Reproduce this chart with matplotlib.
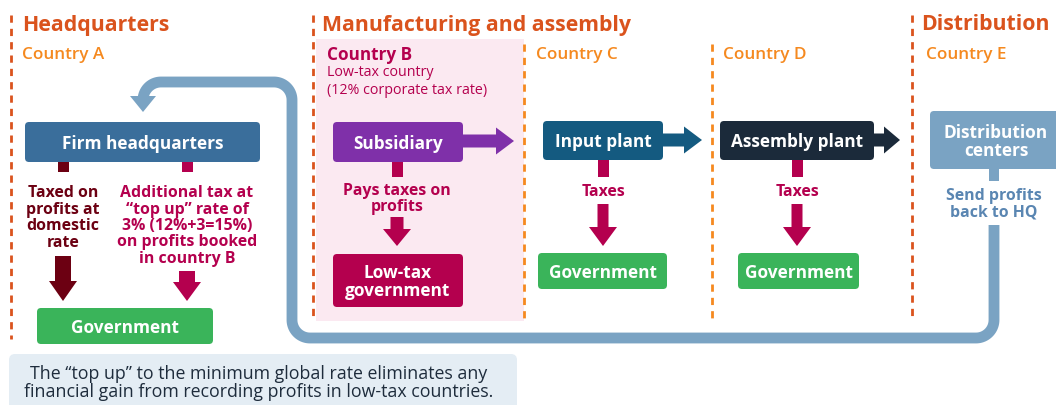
import numpy as np
import matplotlib
matplotlib.use("Agg")
import matplotlib.pyplot as plt
from matplotlib.patches import FancyBboxPatch, Polygon, Rectangle

plt.rcParams['font.family'] = ['Open Sans', 'DejaVu Sans']

# texts of the diagram
section_titles = ['Headquarters', 'Manufacturing and assembly', 'Distribution']
country_labels = ['Country A', 'Country C', 'Country D', 'Country E']
country_b = ['Country B', 'Low-tax country', '(12% corporate tax rate)']
box_labels = ['Firm headquarters', 'Subsidiary', 'Input plant', 'Assembly plant',
              'Distribution\ncenters']
gov_labels = ['Government', 'Low-tax\ngovernment', 'Government', 'Government']
hq_notes = ['Taxed on\nprofits at\ndomestic\nrate',
            'Additional tax at\n\u201ctop up\u201d rate of\n3% (12%+3=15%)\non profits booked\nin country B']
flow_notes = ['Pays taxes on\nprofits', 'Taxes', 'Taxes', 'Send profits\nback to HQ']
footnote = ('The \u201ctop up\u201d to the minimum global rate eliminates any\n'
            'financial gain from recording profits in low-tax countries.')

RED_OR = '#DA531D'
ORANGE = '#F5891F'
CRIMSON = '#B4004E'
DARKRED = '#6C0012'
GREEN = '#3AB45A'
LOOP = '#7AA3C3'
BOX_FS = 12.4
NOTE_FS = 11.4

fig = plt.figure(figsize=(10.56, 4.06), dpi=100)
ax = fig.add_axes([0, 0, 1, 1])
ax.set_xlim(0, 1056)
ax.set_ylim(406, 0)
ax.axis('off')


def rbox(x0, y0, x1, y1, color, text=None, size=BOX_FS, r=4, tcolor='white'):
    ax.add_patch(FancyBboxPatch((x0, y0), x1 - x0, y1 - y0,
                                boxstyle=f'round,pad=0,rounding_size={r}',
                                fc=color, ec='none', zorder=3))
    if text:
        ax.text((x0 + x1) / 2, (y0 + y1) / 2 + 1, text, color=tcolor, fontsize=size,
                fontweight='bold', ha='center', va='center', linespacing=1.0, zorder=4)


def down_arrow(x, y0, y1, color, shaft=13, head=28, hlen=19):
    pts = [(x - shaft / 2, y0), (x + shaft / 2, y0), (x + shaft / 2, y1 - hlen),
           (x + head / 2, y1 - hlen), (x, y1), (x - head / 2, y1 - hlen),
           (x - shaft / 2, y1 - hlen)]
    ax.add_patch(Polygon(pts, closed=True, fc=color, ec='none', zorder=3))


def right_arrow(x0, x1, y, color, shaft=13, head=27, hlen=18):
    pts = [(x0, y - shaft / 2), (x1 - hlen, y - shaft / 2), (x1 - hlen, y - head / 2),
           (x1, y), (x1 - hlen, y + head / 2), (x1 - hlen, y + shaft / 2), (x0, y + shaft / 2)]
    ax.add_patch(Polygon(pts, closed=True, fc=color, ec='none', zorder=3))


def stem(x, y0, y1, color, w=11):
    ax.add_patch(Rectangle((x - w / 2, y0), w, y1 - y0, fc=color, ec='none', zorder=3))


# pink background of country B
ax.add_patch(Rectangle((316, 40), 208, 282, fc='#FBE9F1', ec='none', zorder=0))

# dashed dividers
for x, y0, y1, c in [(11, 16, 340, RED_OR), (313, 16, 322, RED_OR), (912, 16, 322, RED_OR),
                     (524, 45, 322, ORANGE), (712, 45, 322, ORANGE)]:
    ax.plot([x, x], [y0, y1], color=c, lw=2, dashes=(2.6, 2.2), solid_capstyle='butt', zorder=1)

# section titles
for x, t in zip([22, 322, 921], section_titles):
    ax.text(x, 25, t, color=RED_OR, fontsize=15.3, fontweight='bold', ha='left', va='center')
for x, t in zip([22, 536, 723, 926], country_labels):
    ax.text(x, 55, t, color=ORANGE, fontsize=12.3, fontweight='semibold', ha='left', va='center')
ax.text(327, 55, country_b[0], color=CRIMSON, fontsize=12.3, fontweight='bold', va='center')
ax.text(327, 73, country_b[1], color=CRIMSON, fontsize=10.3, fontweight='medium', va='center')
ax.text(327, 90, country_b[2], color=CRIMSON, fontsize=10.3, fontweight='medium', va='center')

# return-to-HQ loop
r = 18
def arc(cx, cy, a0, a1):
    t = np.radians(np.linspace(a0, a1, 20))
    return list(zip(cx + r * np.cos(t), cy + r * np.sin(t)))

xr, xm, xl = 994, 292, 143
yb, yt = 339, 83
path = [(xr, 226)]
path += arc(xr - r, yb - r, 0, 90)
path += arc(xm + r, yb - r, 90, 180)
path += arc(xm - r, yt + r, 0, -90)
path += arc(xl + r, yt + r, 270, 180)
path += [(xl, 100)]
px, py = zip(*path)
ax.plot(px, py, color='white', lw=10.5, solid_capstyle='butt', zorder=2)
ax.plot(px, py, color=LOOP, lw=7.8, solid_capstyle='butt', zorder=2)
ax.add_patch(Polygon([(xl - 13, 97), (xl + 13, 97), (xl, 113)], closed=True,
                     fc=LOOP, ec='none', zorder=3))

# headquarters column
rbox(25, 123, 260, 163, '#3A6E9B', box_labels[0])
stem(63, 163, 173, DARKRED)
stem(187, 163, 173, CRIMSON)
ax.text(63, 218, hq_notes[0], color=DARKRED, fontsize=NOTE_FS, fontweight='bold',
        ha='center', va='center', linespacing=1.04)
ax.text(187, 226, hq_notes[1], color=CRIMSON, fontsize=NOTE_FS, fontweight='bold',
        ha='center', va='center', linespacing=1.04)
down_arrow(63, 257, 302, DARKRED, shaft=16, head=28, hlen=20)
down_arrow(187, 272, 302, CRIMSON, shaft=16, head=28, hlen=19)
rbox(37, 309, 213, 345, GREEN, gov_labels[0])

# country B
rbox(333, 123, 463, 163, '#7F30A9', box_labels[1])
right_arrow(462, 514, 142, '#7F30A9')
stem(397, 163, 178, CRIMSON)
ax.text(397, 199, flow_notes[0], color=CRIMSON, fontsize=NOTE_FS, fontweight='bold',
        ha='center', va='center', linespacing=1.04)
down_arrow(397, 218, 247, CRIMSON, shaft=13, head=28, hlen=17)
rbox(333, 255, 463, 308, CRIMSON, gov_labels[1])

# country C
rbox(543, 122, 663, 161, '#145A80', box_labels[2])
right_arrow(662, 702, 141, '#145A80')
stem(603, 161, 178, CRIMSON)
ax.text(603, 192, flow_notes[1], color=CRIMSON, fontsize=NOTE_FS, fontweight='bold',
        ha='center', va='center')
down_arrow(603, 205, 247, CRIMSON, shaft=11, head=28, hlen=19)
rbox(538, 254, 667, 290, GREEN, gov_labels[2])

# country D
rbox(720, 122, 874, 161, '#1B2A3A', box_labels[3])
right_arrow(873, 900, 141, '#1B2A3A', hlen=16)
stem(797, 161, 178, CRIMSON)
ax.text(797, 192, flow_notes[2], color=CRIMSON, fontsize=NOTE_FS, fontweight='bold',
        ha='center', va='center')
down_arrow(797, 205, 247, CRIMSON, shaft=11, head=28, hlen=19)
rbox(738, 254, 859, 290, GREEN, gov_labels[3])

# country E
rbox(930, 112, 1062, 170, LOOP, box_labels[4])
stem(994, 170, 182, LOOP, w=10)
ax.text(994, 204, flow_notes[3], color='#5A86B2', fontsize=NOTE_FS, fontweight='bold',
        ha='center', va='center', linespacing=1.04)

# footnote
ax.add_patch(FancyBboxPatch((9, 355), 508, 60, boxstyle='round,pad=0,rounding_size=6',
                            fc='#E4EDF4', ec='none', zorder=1))
ax.text(259, 383, footnote, color='#1E2C3C', fontsize=12.8, ha='center', va='center',
        linespacing=1.02, fontweight='medium')

fig.savefig('out.png', dpi=100)
